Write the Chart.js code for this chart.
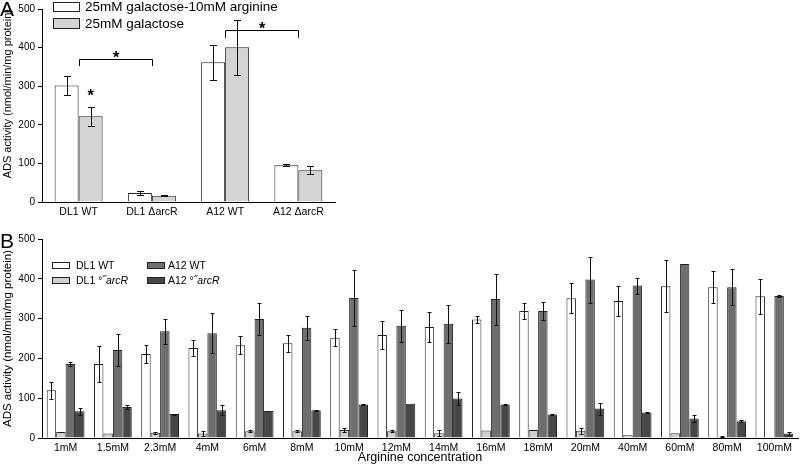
<!DOCTYPE html>
<html>
<head>
<meta charset="utf-8">
<script src="https://cdn.jsdelivr.net/npm/chart.js@4.4.0/dist/chart.umd.min.js"></script>
<style>
  body { margin: 0; background: #fff; font-family: "Liberation Sans", Arial, sans-serif; }
  #wrap { position: relative; width: 800px; height: 472px; overflow: hidden; }
  canvas { position: absolute; left: 0; }
  .lbl { position: absolute; color: #000; white-space: nowrap; }
  .box { position: absolute; border: 1px solid #222; box-sizing: border-box; }
</style>
</head>
<body>
<div id="wrap">
  <canvas id="chartA" width="340" height="225" style="top:0"></canvas>
  <canvas id="chartB" width="800" height="242" style="top:230px"></canvas>

  <div class="lbl" style="left:0;top:-2px;font-size:21px;line-height:21px">A</div>
  <div class="lbl" style="left:0;top:230px;font-size:21px;line-height:21px">B</div>

  <!-- legend panel A -->
  <div class="box" style="left:53px;top:2px;width:27px;height:10px;background:#fff"></div>
  <div class="lbl" style="left:85px;top:-1px;font-size:13.5px;line-height:16px">25mM galactose-10mM arginine</div>
  <div class="box" style="left:53px;top:18px;width:27px;height:11px;background:#d4d4d4"></div>
  <div class="lbl" style="left:85px;top:16px;font-size:13.5px;line-height:16px">25mM galactose</div>

  <!-- legend panel B -->
  <div class="box" style="left:52px;top:262px;width:18px;height:7px;background:#fff"></div>
  <div class="lbl" style="left:76px;top:259px;font-size:10.5px;line-height:12px">DL1 WT</div>
  <div class="box" style="left:52px;top:277px;width:18px;height:7px;background:#d0d0d0"></div>
  <div class="lbl" style="left:76px;top:274px;font-size:10.5px;line-height:12px">DL1 °˝<i>arcR</i></div>
  <div class="box" style="left:147px;top:262px;width:18px;height:7px;background:#6e6e6e"></div>
  <div class="lbl" style="left:168px;top:259px;font-size:10.5px;line-height:12px">A12 WT</div>
  <div class="box" style="left:147px;top:277px;width:18px;height:7px;background:#474747"></div>
  <div class="lbl" style="left:168px;top:274px;font-size:10.5px;line-height:12px">A12 °˝<i>arcR</i></div>
</div>

<script>
// Panel A data
var strainsA = ['DL1 WT', 'DL1 ΔarcR', 'A12 WT', 'A12 ΔarcR'];
var argA = [302, 23, 362, 95];
var argAErr = [24, 5, 45, 3];
var galA = [222, 16, 401, 82];
var galAErr = [24, 1.5, 71, 10];
// significance brackets (category pairs) and their heights
var sigPairs = [[0, 1], [2, 3]];
var sigLevel = [370, 446];
var sigTick = [352, 425];

// Panel B data
var concB = ['1mM', '1.5mM', '2.3mM', '4mM', '6mM', '8mM', '10mM', '12mM', '14mM', '16mM', '18mM', '20mM', '40mM', '60mM', '80mM', '100mM'];
var dl1WT = [120, 186, 211, 226, 233, 238, 252, 259, 279, 298, 319, 351, 344, 381, 379, 356];
var dl1WTErr = [21, 46, 23, 20, 23, 22, 22, 35, 37, 8, 19, 38, 38, 65, 41, 44];
var dl1Arc = [15, 11, 13, 11, 17, 17, 20, 17, 12, 19, 20, 18, 7, 12, 3, 2];
var dl1ArcErr = [1, 0, 2, 7, 3, 3, 4, 2, 8, 0, 1, 7, 0, 0, 1, 0];
var a12WT = [186, 221, 268, 263, 299, 277, 352, 282, 287, 349, 319, 398, 383, 437, 379, 357];
var a12WTErr = [6, 40, 31, 50, 39, 30, 70, 40, 48, 64, 22, 58, 20, 0, 46, 2];
var a12Arc = [67, 78, 60, 70, 68, 70, 84, 86, 99, 84, 59, 74, 64, 49, 42, 11];
var a12ArcErr = [8, 6, 1, 12, 0, 1, 1, 0, 16, 2, 1, 15, 1, 8, 3, 3];

Chart.defaults.font.family = '"Liberation Sans", Arial, sans-serif';
Chart.defaults.color = '#000';

// draws the +/- error bars from each dataset's "errors" array
const errorBars = {
  id: 'errorBars',
  afterDatasetsDraw(chart, args, opts) {
    const ctx = chart.ctx, y = chart.scales.y;
    const cap = opts.cap || 3;
    ctx.save();
    ctx.strokeStyle = '#111';
    ctx.lineWidth = 1;
    chart.data.datasets.forEach((ds, i) => {
      const meta = chart.getDatasetMeta(i);
      meta.data.forEach((bar, j) => {
        const e = ds.errors[j];
        if (!e) return;
        const v = ds.data[j];
        const top = Math.round(y.getPixelForValue(v + e)) + 0.5;
        const bot = Math.round(y.getPixelForValue(v - e)) + 0.5;
        const x = Math.round(bar.x) + 0.5;
        ctx.beginPath();
        ctx.moveTo(x, top); ctx.lineTo(x, bot);
        ctx.moveTo(x - cap, top); ctx.lineTo(x + cap, top);
        ctx.moveTo(x - cap, bot); ctx.lineTo(x + cap, bot);
        ctx.stroke();
      });
    });
    ctx.restore();
  }
};

// significance brackets + asterisks for panel A
const sigMarks = {
  id: 'sigMarks',
  afterDatasetsDraw(chart) {
    const ctx = chart.ctx, xs = chart.scales.x, ys = chart.scales.y;
    ctx.save();
    ctx.strokeStyle = '#000';
    ctx.fillStyle = '#000';
    ctx.lineWidth = 1;
    ctx.font = 'bold 16px "Liberation Sans", Arial';
    ctx.textAlign = 'center';
    ctx.textBaseline = 'alphabetic';
    sigPairs.forEach((p, k) => {
      const x1 = Math.round(xs.getPixelForValue(p[0])) + 0.5;
      const x2 = Math.round(xs.getPixelForValue(p[1])) + 0.5;
      const yl = Math.round(ys.getPixelForValue(sigLevel[k])) + 0.5;
      const yt = ys.getPixelForValue(sigTick[k]);
      ctx.beginPath();
      ctx.moveTo(x1, yt); ctx.lineTo(x1, yl); ctx.lineTo(x2, yl); ctx.lineTo(x2, yt);
      ctx.stroke();
      ctx.fillText('*', (x1 + x2) / 2, yl + 3);
    });
    // asterisk over DL1 WT galactose bar
    const bar = chart.getDatasetMeta(1).data[0];
    const yTop = ys.getPixelForValue(galA[0] + galAErr[0]);
    ctx.fillText('*', bar.x, yTop - 6);
    ctx.restore();
  }
};

function yAxis(width, titleSize, align) {
  return {
    min: 0, max: 500,
    ticks: { stepSize: 100, font: { size: 10 }, padding: 3 },
    grid: { drawOnChartArea: false, drawTicks: true, tickLength: 4, color: '#000' },
    border: { color: '#000', width: 1 },
    title: { display: true, text: 'ADS activity (nmol/min/mg protein)', font: { size: titleSize }, padding: { top: 1, bottom: 0 }, align: align },
    afterFit(scale) { scale.width = width; }
  };
}

new Chart(document.getElementById('chartA'), {
  type: 'bar',
  data: {
    labels: strainsA,
    datasets: [
      { label: '25mM galactose-10mM arginine', data: argA, errors: argAErr, backgroundColor: '#fff', borderColor: '#222', borderWidth: 1 },
      { label: '25mM galactose', data: galA, errors: galAErr, backgroundColor: '#d4d4d4', borderColor: '#222', borderWidth: 1 }
    ]
  },
  options: {
    responsive: false,
    animation: false,
    categoryPercentage: 0.655,
    barPercentage: 1.0,
    layout: { padding: { top: 8, right: 5, left: 0, bottom: 0 } },
    plugins: { legend: { display: false }, tooltip: { enabled: false }, errorBars: { cap: 3.5 } },
    scales: {
      x: {
        ticks: { font: { size: 10.5 }, padding: 4, maxRotation: 0, autoSkip: false },
        grid: { display: false, drawTicks: false },
        border: { color: '#000', width: 1 },
        afterFit(scale) { scale.height = 23; }
      },
      y: yAxis(42, 11, 'end')
    }
  },
  plugins: [errorBars, sigMarks]
});

new Chart(document.getElementById('chartB'), {
  type: 'bar',
  data: {
    labels: concB,
    datasets: [
      { label: 'DL1 WT', data: dl1WT, errors: dl1WTErr, backgroundColor: '#fff', borderColor: '#222', borderWidth: 1 },
      { label: 'DL1 ΔarcR', data: dl1Arc, errors: dl1ArcErr, backgroundColor: '#d0d0d0', borderColor: '#333', borderWidth: 1 },
      { label: 'A12 WT', data: a12WT, errors: a12WTErr, backgroundColor: '#6e6e6e', borderColor: '#222', borderWidth: 1 },
      { label: 'A12 ΔarcR', data: a12Arc, errors: a12ArcErr, backgroundColor: '#474747', borderColor: '#222', borderWidth: 1 }
    ]
  },
  options: {
    responsive: false,
    animation: false,
    categoryPercentage: 0.8,
    barPercentage: 1.0,
    layout: { padding: { top: 9, right: 2, left: 0, bottom: 0 } },
    plugins: { legend: { display: false }, tooltip: { enabled: false }, errorBars: { cap: 2 } },
    scales: {
      x: {
        ticks: { font: { size: 10.5 }, padding: 4, maxRotation: 0, autoSkip: false },
        grid: { display: false, drawTicks: false },
        border: { color: '#000', width: 1 },
        title: { display: true, text: 'Arginine concentration', font: { size: 12.5 }, padding: { top: 0, bottom: 7 } },
        afterFit(scale) { scale.height = 34; }
      },
      y: yAxis(42, 11.5, 'center')
    }
  },
  plugins: [errorBars]
});
</script>
</body>
</html>
